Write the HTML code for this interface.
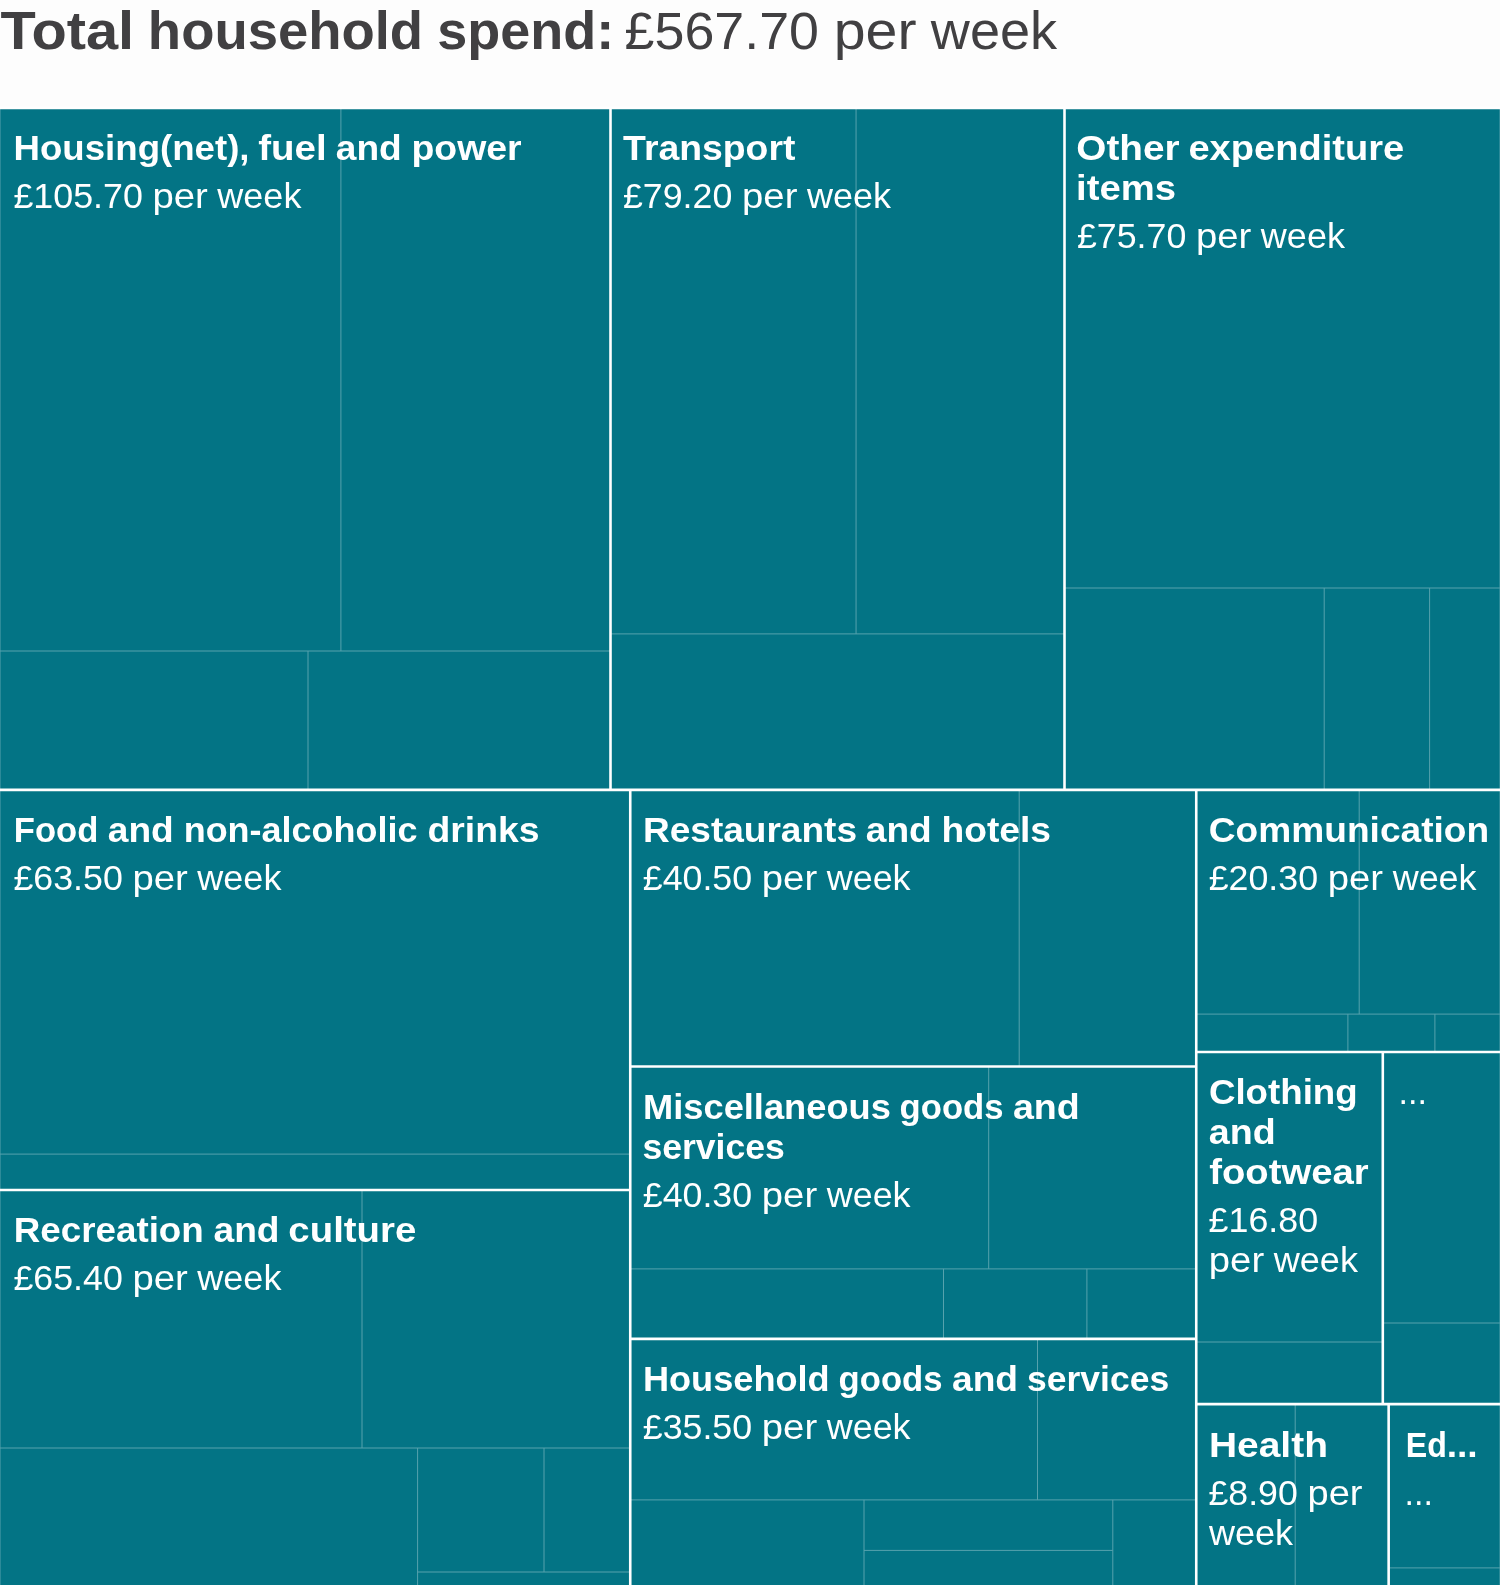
<!DOCTYPE html><html><head><meta charset="utf-8"><title>Total household spend</title>
<style>html,body{margin:0;padding:0;background:#fdfdfd}svg{display:block;will-change:transform}text{font-family:"Liberation Sans",sans-serif}</style></head><body>
<svg width="1500" height="1586" viewBox="0 0 1500 1586">
<rect x="0" y="0" width="1500" height="1586" fill="#fdfdfd"/>
<rect x="0" y="107.85" width="1500" height="1478.5500000000002" fill="#037485"/>
<g stroke="#ffffff" stroke-width="1" fill="none" opacity="0.33">
<line x1="0.0" y1="107.85" x2="0.0" y2="1586.4"/>
<line x1="1500" y1="107.85" x2="1500" y2="1586.4"/>
<line x1="340.9" y1="107.85" x2="340.9" y2="651"/>
<line x1="0" y1="651" x2="610.5" y2="651"/>
<line x1="308" y1="651" x2="308" y2="789.9"/>
<line x1="856.05" y1="107.85" x2="856.05" y2="633.9"/>
<line x1="610.5" y1="633.9" x2="1064.5" y2="633.9"/>
<line x1="1064.5" y1="588" x2="1500" y2="588"/>
<line x1="1324.2" y1="588" x2="1324.2" y2="789.9"/>
<line x1="1429.6" y1="588" x2="1429.6" y2="789.9"/>
<line x1="0" y1="1154.1" x2="630.25" y2="1154.1"/>
<line x1="362" y1="1189.95" x2="362" y2="1448"/>
<line x1="0" y1="1448" x2="630.25" y2="1448"/>
<line x1="417.6" y1="1448" x2="417.6" y2="1586.4"/>
<line x1="544" y1="1448" x2="544" y2="1572"/>
<line x1="417.6" y1="1572" x2="630.25" y2="1572"/>
<line x1="1019.2" y1="789.9" x2="1019.2" y2="1066.5"/>
<line x1="988.7" y1="1066.5" x2="988.7" y2="1268.9"/>
<line x1="630.25" y1="1268.9" x2="1196.25" y2="1268.9"/>
<line x1="943.5" y1="1268.9" x2="943.5" y2="1338.9"/>
<line x1="1086.9" y1="1268.9" x2="1086.9" y2="1338.9"/>
<line x1="1037.5" y1="1338.9" x2="1037.5" y2="1499.9"/>
<line x1="630.25" y1="1499.9" x2="1196.25" y2="1499.9"/>
<line x1="864" y1="1499.9" x2="864" y2="1586.4"/>
<line x1="1112.8" y1="1499.9" x2="1112.8" y2="1586.4"/>
<line x1="864" y1="1550.4" x2="1112.8" y2="1550.4"/>
<line x1="1359.2" y1="789.9" x2="1359.2" y2="1014.1"/>
<line x1="1196.25" y1="1014.1" x2="1500" y2="1014.1"/>
<line x1="1347.9" y1="1014.1" x2="1347.9" y2="1051.95"/>
<line x1="1434.9" y1="1014.1" x2="1434.9" y2="1051.95"/>
<line x1="1196.25" y1="1342" x2="1382.8" y2="1342"/>
<line x1="1382.8" y1="1323" x2="1500" y2="1323"/>
<line x1="1295.2" y1="1404.15" x2="1295.2" y2="1586.4"/>
<line x1="1388.65" y1="1567.9" x2="1500" y2="1567.9"/>
</g>
<g stroke="#ffffff" stroke-width="2.6" fill="none">
<line x1="0" y1="107.85" x2="1500" y2="107.85"/>
<line x1="0" y1="1586.4" x2="1500" y2="1586.4"/>
<line x1="0" y1="789.9" x2="1500" y2="789.9"/>
<line x1="610.5" y1="107.85" x2="610.5" y2="789.9"/>
<line x1="1064.5" y1="107.85" x2="1064.5" y2="789.9"/>
<line x1="630.25" y1="789.9" x2="630.25" y2="1586.4"/>
<line x1="1196.25" y1="789.9" x2="1196.25" y2="1586.4"/>
<line x1="0" y1="1189.95" x2="630.25" y2="1189.95"/>
<line x1="630.25" y1="1066.5" x2="1196.25" y2="1066.5"/>
<line x1="630.25" y1="1338.9" x2="1196.25" y2="1338.9"/>
<line x1="1196.25" y1="1051.95" x2="1500" y2="1051.95"/>
<line x1="1196.25" y1="1404.15" x2="1500" y2="1404.15"/>
<line x1="1382.8" y1="1051.95" x2="1382.8" y2="1404.15"/>
<line x1="1388.65" y1="1404.15" x2="1388.65" y2="1586.4"/>
</g>
<text transform="translate(0.44,49.00) scale(1.1004,1.02)" font-size="52.5" fill="#414042" font-weight="bold">Total</text>
<text transform="translate(147.87,49.00) scale(1.0372,1.02)" font-size="52.5" fill="#414042" font-weight="bold">household</text>
<text transform="translate(437.23,49.00) scale(1.0287,1.02)" font-size="52.5" fill="#414042" font-weight="bold">spend:</text>
<text transform="translate(624.60,49.00) scale(1.0248,1.0)" font-size="52.5" fill="#414042">£567.70</text>
<text transform="translate(833.71,49.00) scale(1.0915,1.02)" font-size="52.5" fill="#414042">per</text>
<text transform="translate(930.87,49.00) scale(1.0301,1.02)" font-size="52.5" fill="#414042">week</text>
<text transform="translate(13.54,160.00) scale(1.0468,1.02)" font-size="35" fill="#fff" font-weight="bold">Housing(net),</text>
<text transform="translate(258.28,160.00) scale(1.0998,1.02)" font-size="35" fill="#fff" font-weight="bold">fuel</text>
<text transform="translate(335.78,160.00) scale(1.0605,1.02)" font-size="35" fill="#fff" font-weight="bold">and</text>
<text transform="translate(411.50,160.00) scale(1.0690,1.02)" font-size="35" fill="#fff" font-weight="bold">power</text>
<text transform="translate(13.38,208.00) scale(1.0235,1.0)" font-size="35" fill="#fff">£105.70</text>
<text transform="translate(152.48,208.00) scale(1.0956,1.02)" font-size="35" fill="#fff">per</text>
<text transform="translate(217.36,208.00) scale(1.0287,1.02)" font-size="35" fill="#fff">week</text>
<text transform="translate(623.12,160.00) scale(1.0676,1.02)" font-size="35" fill="#fff" font-weight="bold">Transport</text>
<text transform="translate(622.93,208.00) scale(1.0222,1.0)" font-size="35" fill="#fff">£79.20</text>
<text transform="translate(742.03,208.00) scale(1.0946,1.02)" font-size="35" fill="#fff">per</text>
<text transform="translate(806.94,208.00) scale(1.0276,1.02)" font-size="35" fill="#fff">week</text>
<text transform="translate(1076.30,160.00) scale(1.1063,1.02)" font-size="35" fill="#fff" font-weight="bold">Other</text>
<text transform="translate(1188.44,160.00) scale(1.0880,1.02)" font-size="35" fill="#fff" font-weight="bold">expenditure</text>
<text transform="translate(1076.09,200.00) scale(1.0931,1.02)" font-size="35" fill="#fff" font-weight="bold">items</text>
<text transform="translate(1076.94,248.00) scale(1.0221,1.0)" font-size="35" fill="#fff">£75.70</text>
<text transform="translate(1195.90,248.00) scale(1.0938,1.02)" font-size="35" fill="#fff">per</text>
<text transform="translate(1260.87,248.00) scale(1.0283,1.02)" font-size="35" fill="#fff">week</text>
<text transform="translate(13.76,842.20) scale(0.9888,1.02)" font-size="35" fill="#fff" font-weight="bold">Food</text>
<text transform="translate(107.78,842.20) scale(1.0605,1.02)" font-size="35" fill="#fff" font-weight="bold">and</text>
<text transform="translate(183.67,842.20) scale(1.0285,1.02)" font-size="35" fill="#fff" font-weight="bold">non-alcoholic</text>
<text transform="translate(427.49,842.20) scale(1.0668,1.02)" font-size="35" fill="#fff" font-weight="bold">drinks</text>
<text transform="translate(13.40,890.10) scale(1.0227,1.0)" font-size="35" fill="#fff">£63.50</text>
<text transform="translate(132.48,890.10) scale(1.0956,1.02)" font-size="35" fill="#fff">per</text>
<text transform="translate(197.36,890.10) scale(1.0287,1.02)" font-size="35" fill="#fff">week</text>
<text transform="translate(643.02,842.20) scale(1.0580,1.02)" font-size="35" fill="#fff" font-weight="bold">Restaurants</text>
<text transform="translate(865.78,842.20) scale(1.0605,1.02)" font-size="35" fill="#fff" font-weight="bold">and</text>
<text transform="translate(941.42,842.20) scale(1.0642,1.02)" font-size="35" fill="#fff" font-weight="bold">hotels</text>
<text transform="translate(642.82,890.10) scale(1.0213,1.0)" font-size="35" fill="#fff">£40.50</text>
<text transform="translate(761.79,890.10) scale(1.0943,1.02)" font-size="35" fill="#fff">per</text>
<text transform="translate(826.74,890.10) scale(1.0267,1.02)" font-size="35" fill="#fff">week</text>
<text transform="translate(1208.80,842.20) scale(1.0608,1.02)" font-size="35" fill="#fff" font-weight="bold">Communication</text>
<text transform="translate(1208.75,890.10) scale(1.0215,1.0)" font-size="35" fill="#fff">£20.30</text>
<text transform="translate(1327.75,890.10) scale(1.0945,1.02)" font-size="35" fill="#fff">per</text>
<text transform="translate(1392.68,890.10) scale(1.0271,1.02)" font-size="35" fill="#fff">week</text>
<text transform="translate(13.65,1242.20) scale(1.0514,1.02)" font-size="35" fill="#fff" font-weight="bold">Recreation</text>
<text transform="translate(213.47,1242.20) scale(1.0620,1.02)" font-size="35" fill="#fff" font-weight="bold">and</text>
<text transform="translate(288.37,1242.20) scale(1.0963,1.02)" font-size="35" fill="#fff" font-weight="bold">culture</text>
<text transform="translate(13.40,1290.20) scale(1.0227,1.0)" font-size="35" fill="#fff">£65.40</text>
<text transform="translate(132.48,1290.20) scale(1.0956,1.02)" font-size="35" fill="#fff">per</text>
<text transform="translate(197.36,1290.20) scale(1.0287,1.02)" font-size="35" fill="#fff">week</text>
<text transform="translate(643.05,1119.00) scale(1.0360,1.02)" font-size="35" fill="#fff" font-weight="bold">Miscellaneous</text>
<text transform="translate(899.52,1119.00) scale(0.9907,1.02)" font-size="35" fill="#fff" font-weight="bold">goods</text>
<text transform="translate(1012.94,1119.00) scale(1.0747,1.02)" font-size="35" fill="#fff" font-weight="bold">and</text>
<text transform="translate(642.40,1159.00) scale(1.0162,1.02)" font-size="35" fill="#fff" font-weight="bold">services</text>
<text transform="translate(642.82,1207.00) scale(1.0213,1.0)" font-size="35" fill="#fff">£40.30</text>
<text transform="translate(761.79,1207.00) scale(1.0943,1.02)" font-size="35" fill="#fff">per</text>
<text transform="translate(826.74,1207.00) scale(1.0267,1.02)" font-size="35" fill="#fff">week</text>
<text transform="translate(1208.90,1104.30) scale(1.0489,1.02)" font-size="35" fill="#fff" font-weight="bold">Clothing</text>
<text transform="translate(1208.77,1144.30) scale(1.0753,1.02)" font-size="35" fill="#fff" font-weight="bold">and</text>
<text transform="translate(1209.21,1184.30) scale(1.0940,1.02)" font-size="35" fill="#fff" font-weight="bold">footwear</text>
<text transform="translate(1208.58,1232.30) scale(1.0237,1.0)" font-size="35" fill="#fff">£16.80</text>
<text transform="translate(1208.79,1272.30) scale(1.0943,1.02)" font-size="35" fill="#fff">per</text>
<text transform="translate(1273.71,1272.30) scale(1.0311,1.02)" font-size="35" fill="#fff">week</text>
<text transform="translate(642.90,1391.40) scale(1.0335,1.02)" font-size="35" fill="#fff" font-weight="bold">Household</text>
<text transform="translate(838.52,1391.40) scale(0.9907,1.02)" font-size="35" fill="#fff" font-weight="bold">goods</text>
<text transform="translate(951.98,1391.40) scale(1.0623,1.02)" font-size="35" fill="#fff" font-weight="bold">and</text>
<text transform="translate(1027.10,1391.40) scale(1.0139,1.02)" font-size="35" fill="#fff" font-weight="bold">services</text>
<text transform="translate(642.82,1439.40) scale(1.0213,1.0)" font-size="35" fill="#fff">£35.50</text>
<text transform="translate(761.79,1439.40) scale(1.0943,1.02)" font-size="35" fill="#fff">per</text>
<text transform="translate(826.74,1439.40) scale(1.0267,1.02)" font-size="35" fill="#fff">week</text>
<text transform="translate(1208.97,1456.70) scale(1.1123,1.02)" font-size="35" fill="#fff" font-weight="bold">Health</text>
<text transform="translate(1208.40,1504.70) scale(1.0205,1.0)" font-size="35" fill="#fff">£8.90</text>
<text transform="translate(1307.50,1504.70) scale(1.0878,1.02)" font-size="35" fill="#fff">per</text>
<text transform="translate(1208.95,1544.70) scale(1.0300,1.02)" font-size="35" fill="#fff">week</text>
<text transform="translate(1405.82,1456.70) scale(0.9191,1.02)" font-size="35" fill="#fff" font-weight="bold">Ed</text>
<text transform="translate(1446.64,1456.70) scale(1.0649,1.02)" font-size="35" fill="#fff" font-weight="bold">...</text>
<text transform="translate(1398.56,1104.30) scale(0.9755,1.02)" font-size="35" fill="#fff">...</text>
<text transform="translate(1404.56,1504.70) scale(0.9755,1.02)" font-size="35" fill="#fff">...</text>
</svg></body></html>
